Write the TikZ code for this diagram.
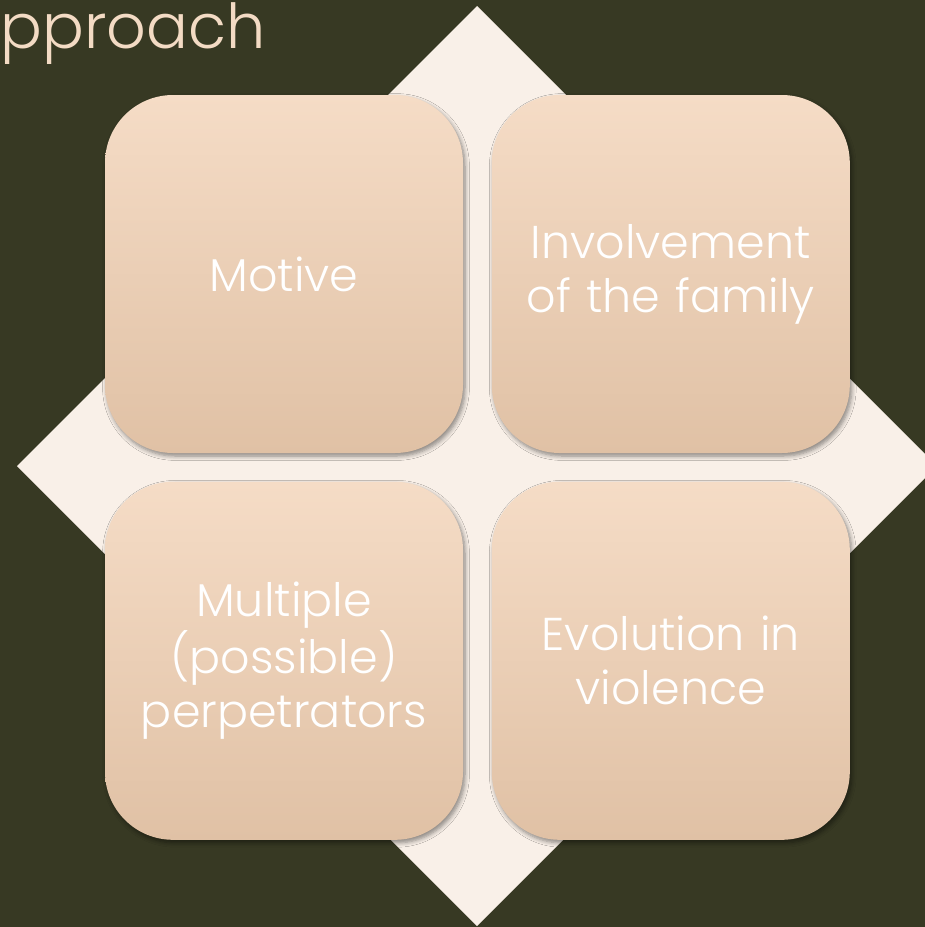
\documentclass[tikz,border=0pt]{standalone}
\usepackage{fontspec}
\setmainfont{Poppins}[UprightFont=* Light]
\usepackage{xcolor}
\usetikzlibrary{positioning,shadows,shadows.blur}
\definecolor{olivebg}{HTML}{373923}
\definecolor{creamdia}{HTML}{F9F0E8}
\definecolor{peachtop}{HTML}{F5DCC6}
\definecolor{peachbot}{HTML}{E0C1A5}
\definecolor{titlecol}{HTML}{F3DBC4}
\tikzset{
    quadbox/.style={
        rectangle,
        rounded corners=34pt,
        top color=peachtop,
        bottom color=peachbot,
        draw=none,
        minimum width=179pt,
        minimum height=179pt,
        text width=165pt,
        align=center,
        text=white,
        font={\fontsize{23pt}{27pt}\selectfont},
        blur shadow={shadow xshift=1pt, shadow yshift=-1.5pt,
            shadow blur steps=6, shadow opacity=45}
    },
    node distance=14pt,
}

\begin{document}
\begin{tikzpicture}[x=0.5pt,y=-0.5pt]
\useasboundingbox (0,0) rectangle (925,927);
\clip (0,0) rectangle (925,927);
\fill[olivebg] (0,0) rectangle (925,927);
% title, cut by the left edge
\node[anchor=base east, text=titlecol, inner sep=0pt,
    font={\fontsize{31pt}{34pt}\selectfont}] (title) at (266,48) {Approach};
% background diamond
\fill[creamdia] (477,6) -- (937,466) -- (477,926) -- (17,466) -- cycle;
\node[quadbox] (motive) at (284,274) {Motive};
\node[quadbox, right=of motive] (family) {Involvement\\of the family};
\node[quadbox, below=of motive] (perps) {Multiple\\(possible)\\perpetrators};
\node[quadbox, below=of family] (evol) {Evolution in\\violence};
\end{tikzpicture}
\end{document}
